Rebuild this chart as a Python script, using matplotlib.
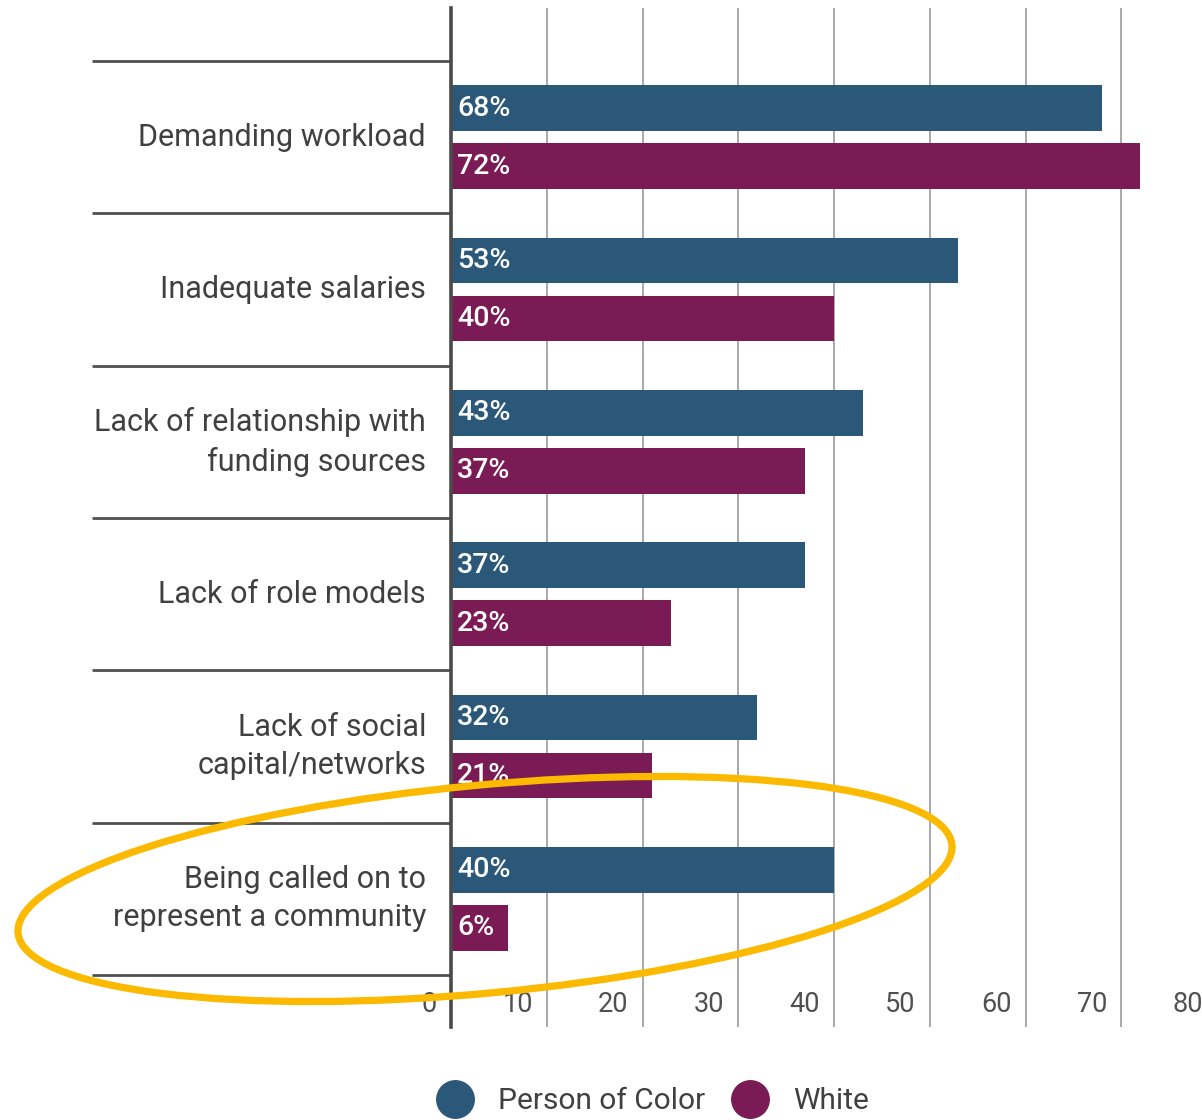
import matplotlib
matplotlib.use("Agg")
import matplotlib.pyplot as plt
from matplotlib.lines import Line2D
from matplotlib.patches import Ellipse
from matplotlib.transforms import blended_transform_factory, ScaledTranslation

plt.rcParams["font.family"] = ["Roboto", "DejaVu Sans"]

# Survey results: share of respondents naming each challenge
categories = [
    "Demanding workload",
    "Inadequate salaries",
    "Lack of relationship with\nfunding sources",
    "Lack of role models",
    "Lack of social\ncapital/networks",
    "Being called on to\nrepresent a community",
]
person_of_color = [68, 53, 43, 37, 32, 40]
white = [72, 40, 37, 23, 21, 6]
series_names = ["Person of Color", "White"]
x_ticks = [0, 10, 20, 30, 40, 50, 60, 70, 80]
x_tick_labels = ["0", "10", "20", "30", "40", "50", "60", "70", "80"]

BLUE = "#2b5879"
PURPLE = "#7a1b56"
TEXT = "#404040"

W, H = 1202, 1120
fig = plt.figure(figsize=(W / 100, H / 100), dpi=100)

# main plotting area (pixel-based placement; right edge runs past the canvas)
left_px, right_px, top_px, bottom_px = 451, 1217, 8, 1027
ax = fig.add_axes([left_px / W, 1 - bottom_px / H,
                   (right_px - left_px) / W, (bottom_px - top_px) / H])

n = len(categories)
centers = list(range(n))
bar_h = 0.30
off = 0.19
ax.barh([c - off for c in centers], person_of_color, height=bar_h,
        color=BLUE, zorder=3)
ax.barh([c + off for c in centers], white, height=bar_h,
        color=PURPLE, zorder=3)

ax.set_xlim(0, 80)
ax.set_ylim(5.5 + 0.341, -0.5 - 0.348)

# value labels inside the bars
lbl_off = ScaledTranslation(6 / 100, 0, fig.dpi_scale_trans)
for c, v in zip(centers, person_of_color):
    ax.text(0, c - off, f"{v}%", color="white", fontsize=20.5,
            fontweight="medium", va="center", ha="left",
            transform=ax.transData + lbl_off, zorder=4)
for c, v in zip(centers, white):
    ax.text(0, c + off, f"{v}%", color="white", fontsize=20.5,
            fontweight="medium", va="center", ha="left",
            transform=ax.transData + lbl_off, zorder=4)

# vertical gridlines and axis line
ax.set_xticks(x_ticks)
ax.set_xticklabels([])
ax.set_yticks([])
ax.tick_params(length=0)
ax.grid(axis="x", color="#9a9a9a", linewidth=1.2, zorder=0)
for s in ["top", "right", "bottom"]:
    ax.spines[s].set_visible(False)
ax.spines["left"].set_color("#4a4a4a")
ax.spines["left"].set_linewidth(2.6)
ax.spines["left"].set_zorder(5)

# x tick labels sit just left of each gridline
bt = blended_transform_factory(ax.transData, ax.transAxes)
tick_off = ScaledTranslation(-14 / 100, 0, fig.dpi_scale_trans)
tick_y = (bottom_px - 1005) / (bottom_px - top_px)
for t, lab in zip(x_ticks, x_tick_labels):
    ax.text(t, tick_y, lab, color="#505050", fontsize=19.5, ha="right",
            va="center", transform=bt + tick_off, clip_on=False)

# category separators and labels to the left of the axis
yt = blended_transform_factory(ax.transAxes, ax.transData)
sep_left = (92 - left_px) / (right_px - left_px)
for b in [c - 0.5 for c in centers] + [n - 0.5]:
    ax.plot([sep_left, 0], [b, b], color="#4f4f4f", linewidth=2.0,
            transform=yt, clip_on=False, solid_capstyle="butt")
lab_x = (426 - left_px) / (right_px - left_px)
for c, name in zip(centers, categories):
    ax.text(lab_x, c, name, color=TEXT, fontsize=22, ha="right", va="center",
            linespacing=1.4, transform=yt)

# legend
handles = [
    Line2D([], [], marker="o", linestyle="", markersize=27,
           markerfacecolor=BLUE, markeredgecolor=BLUE),
    Line2D([], [], marker="o", linestyle="", markersize=27,
           markerfacecolor=PURPLE, markeredgecolor=PURPLE),
]
fig.legend(handles, series_names, loc="center", ncol=2, frameon=False,
           bbox_to_anchor=(653 / W, 1 - 1101 / H), fontsize=21.5,
           handletextpad=0.85, columnspacing=0.9, handlelength=1.2,
           labelcolor=TEXT)

# highlight ring around the last category
ov = fig.add_axes([0, 0, 1, 1], zorder=10)
ov.set_xlim(0, W)
ov.set_ylim(H, 0)
ov.axis("off")
ov.patch.set_alpha(0)
ov.add_patch(Ellipse((485, 889), width=938, height=208, angle=-5.4,
                     fill=False, edgecolor="#fbb900", linewidth=5.2))

fig.savefig("out.png", dpi=100)
